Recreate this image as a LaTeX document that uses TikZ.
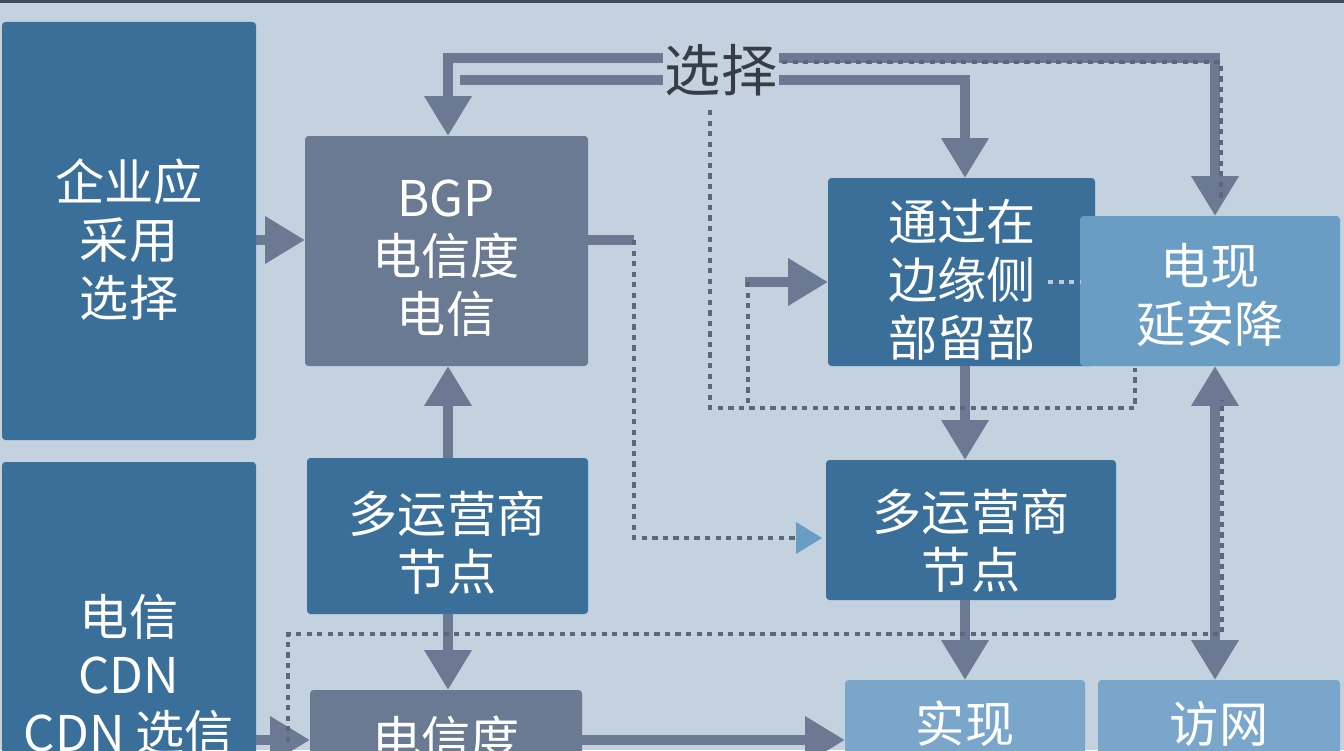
\documentclass[tikz,border=0pt]{standalone}
\usepackage{fontspec}
\setmainfont{Noto Sans CJK SC}
\usetikzlibrary{arrows.meta}
\definecolor{bgc}{HTML}{C4D2DF}
\definecolor{darkb}{HTML}{3A6F9A}
\definecolor{slate}{HTML}{6A7A92}
\definecolor{lightb}{HTML}{6A9DC4}
\definecolor{paleb}{HTML}{7AA6CC}
\definecolor{arr}{HTML}{6B7A92}
\tikzset{
  box/.style={rounded corners=2pt,text=white,align=center,font=\fontsize{28}{33}\selectfont},
  flow/.style={arr,line width=6pt,-{Triangle[length=8mm,width=9mm]}},
  bar/.style={arr,line width=6pt},
  dots/.style={arr!85!black,line width=2.5pt,dash pattern=on 3pt off 3pt}
}
\begin{document}
\begin{tikzpicture}[x=0.02cm,y=-0.02cm]
	\useasboundingbox (0,0) rectangle (1344,750);
	\fill[bgc] (0,0) rectangle (1344,750);
	\fill[slate!60!black] (0,0) rectangle (1344,3);
	% boxes
	\fill[darkb,rounded corners=2pt] (2,22) rectangle (256,440);
	\node[box] (ent) at (129,240) {企业应\\采用\\选择};
	\fill[darkb,rounded corners=2pt] (2,462) rectangle (256,770);
	\node[box,anchor=north] (cdn) at (129,588) {电信\\CDN\\CDN 选信};
	\fill[slate,rounded corners=2pt] (305,136) rectangle (588,366);
	\node[box] (bgp) at (446,258) {BGP\\电信度\\电信};
	\fill[darkb,rounded corners=2pt] (307,458) rectangle (588,614);
	\node[box] (multiL) at (447,543) {多运营商\\节点};
	\fill[slate,rounded corners=2pt] (310,690) rectangle (582,770);
	\node[box,anchor=north] (tel) at (446,710) {电信度};
	\fill[darkb,rounded corners=2pt] (828,178) rectangle (1095,366);
	\node[box] (edge) at (962,280) {通过在\\边缘侧\\部留部};
	\fill[lightb,rounded corners=2pt] (1080,216) rectangle (1340,366);
	\node[box] (lat) at (1210,295) {电现\\延安降};
	\fill[darkb,rounded corners=2pt] (826,460) rectangle (1116,600);
	\node[box] (multiR) at (971,541) {多运营商\\节点};
	\fill[paleb,rounded corners=2pt] (845,680) rectangle (1085,770);
	\node[box,anchor=north] (real) at (965,695) {实现};
	\fill[paleb,rounded corners=2pt] (1098,680) rectangle (1340,770);
	\node[box,anchor=north] (acc) at (1219,695) {访网};
	\node[text=arr!50!black,font=\fontsize{32}{33}\selectfont,inner sep=1pt] (sel) at (721,70) {选择};
	% thick connectors
	\draw[bar] (sel.west|-0,80) -- (460,80);
	\draw[flow] (sel.west|-0,58) -- (448,58) -- (448,136);
	\draw[flow] (sel.east|-0,58) -- (1215,58) -- (1215,216);
	\draw[flow] (sel.east|-0,80) -- (965,80) -- (965,178);
	\draw[flow] (256,240) -- (305,240);
	\draw[flow] (448,458) -- (448,366);
	\draw[flow] (448,614) -- (448,690);
	\draw[flow] (965,366) -- (965,460);
	\draw[flow] (965,600) -- (965,680);
	\draw[flow] (1215,640) -- (1215,366);
	\draw[flow] (1215,640) -- (1215,680);
	\draw[flow] (745,282) -- (828,282);
	\draw[flow] (256,740) -- (310,740);
	\draw[flow] (582,740) -- (845,740);
	\draw[bar] (588,240) -- (634,240);
	% dotted connectors
	\draw[dots] (782,62) -- (1221,62) -- (1221,200);
	\draw[dots] (710,110) -- (710,408) -- (1135,408) -- (1135,368);
	\draw[dots] (748,282) -- (748,408);
	\draw[dots] (634,240) -- (634,538) -- (805,538);
	\fill[lightb] (796,522) -- (822,538) -- (796,554) -- cycle;
	\draw[dots] (288,742) -- (288,634) -- (1222,634) -- (1222,400);
	\draw[dots,arr!40!white] (1048,282) -- (1080,282);
\end{tikzpicture}
\end{document}
